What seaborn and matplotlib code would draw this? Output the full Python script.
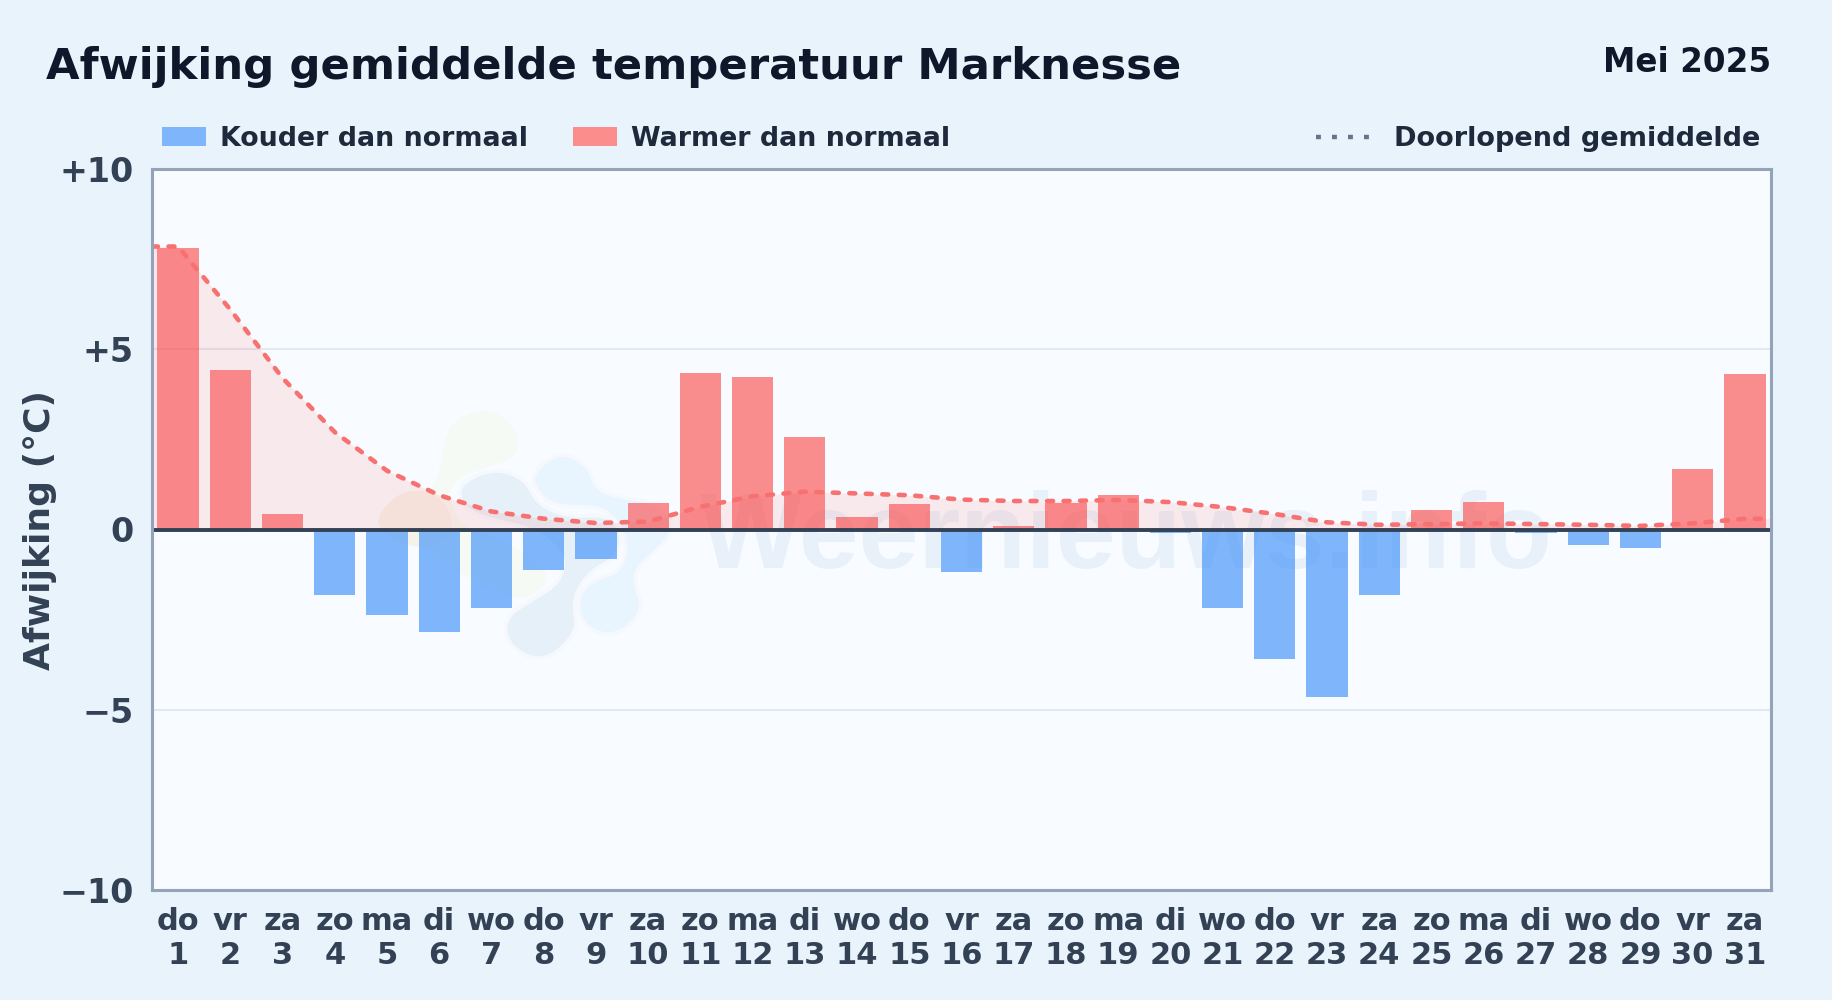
import pandas as pd
import numpy as np
import matplotlib.pyplot as plt
import seaborn as sns
from matplotlib.lines import Line2D
from matplotlib.patches import Patch, PathPatch
from matplotlib.path import Path

# ==================================================
# DATA
# ==================================================
days = list(range(1, 32))
weekdays = ['do', 'vr', 'za', 'zo', 'ma', 'di', 'wo', 'do', 'vr', 'za', 'zo', 'ma', 'di', 'wo', 'do', 'vr',
            'za', 'zo', 'ma', 'di', 'wo', 'do', 'vr', 'za', 'zo', 'ma', 'di', 'wo', 'do', 'vr', 'za']
afwijking = [7.82, 4.42, 0.44, -1.83, -2.38, -2.83, -2.18, -1.12, -0.83, 0.73, 4.35, 4.22, 2.57, 0.34, 0.70, -1.18,
             0.11, 0.73, 0.96, -0.10, -2.18, -3.58, -4.65, -1.83, 0.53, 0.76, -0.10, -0.42, -0.52, 1.67, 4.32]
gemiddelde = [7.85, 6.10, 4.20, 2.70, 1.63, 0.95, 0.50, 0.30, 0.18, 0.22, 0.63, 0.92, 1.05, 1.00, 0.95, 0.83,
              0.79, 0.79, 0.82, 0.76, 0.62, 0.43, 0.20, 0.13, 0.15, 0.17, 0.15, 0.13, 0.10, 0.17, 0.30]
y_ticks = [10, 5, 0, -5, -10]
y_labels = ['+10', '+5', '0', '\u22125', '\u221210']

BG = '#e8f3fc'
PLOT_BG = '#f8fbff'
BLUE = '#3f91fa'
RED = '#fb5252'
LINE = '#f87171'
DARK = '#1e293b'
SLATE = '#334155'

df = pd.DataFrame({'dag': days, 'afwijking': afwijking})
df['soort'] = np.where(df['afwijking'] < 0, 'koud', 'warm')

# watermark logo outlines, as control points measured on the reference
logo_green = [(445, 150), (550, 100), (640, 150), (650, 240), (560, 270), (470, 300), (450, 350), (490, 440),
              (600, 470), (740, 560), (700, 630), (620, 640), (500, 580), (400, 500), (330, 470), (380, 380), (430, 280)]
logo_orange = [(240, 400), (320, 330), (420, 350), (460, 440), (400, 500), (310, 490), (245, 450)]
logo_grey = [(485, 330), (590, 280), (680, 310), (710, 380), (800, 420), (900, 410), (950, 450), (940, 530), (860, 570),
             (810, 650), (830, 740), (730, 830), (630, 780), (620, 700), (700, 650), (780, 600), (790, 520), (700, 450),
             (600, 430), (510, 400)]
logo_light = [(710, 290), (790, 230), (870, 270), (890, 340), (960, 360), (1080, 380), (1110, 450), (1060, 510),
              (1000, 560), (1000, 610), (1025, 680), (940, 755), (850, 720), (835, 640), (880, 590), (960, 570),
              (980, 480), (930, 400), (870, 385), (770, 385), (720, 340)]

W, H = 1832, 1000


def blob(points, grow=1.07):
    # closed smooth outline, points used as quadratic control points
    pts = np.array([(300 + x / 3, H - (380 + y / 3)) for x, y in points])
    centre = pts.mean(axis=0)
    pts = centre + (pts - centre) * grow
    mids = (pts + np.roll(pts, -1, axis=0)) / 2
    verts = [mids[-1]]
    codes = [Path.MOVETO]
    for p, m in zip(pts, mids):
        verts += [p, m]
        codes += [Path.CURVE3, Path.CURVE3]
    return Path(verts, codes)


# ==================================================
# FIGURE
# ==================================================
sns.set_theme(style='white')
plt.rcParams['font.family'] = ['DejaVu Sans']
plt.rcParams['font.weight'] = 'bold'

fig = plt.figure(figsize=(W / 100, H / 100), dpi=100, facecolor=BG)
ax = fig.add_axes([152 / W, 1 - 890 / H, (1771 - 152) / W, 721 / H], facecolor=PLOT_BG)

for outline, colour, edge in [(logo_green, '#f5faf4', 'none'), (logo_orange, '#f6f2ea', 'none'),
                              (logo_grey, '#e6f0f9', '#f5f9fe'), (logo_light, '#e8f5fe', '#f5f9fe')]:
    ax.add_patch(PathPatch(blob(outline), transform=None, facecolor=colour, edgecolor=edge, linewidth=2.5, zorder=0.5))

ax.text(0.602, 0.447, 'Weernieuws.info', transform=ax.transAxes, ha='center', va='baseline',
        fontsize=77.5, fontweight='bold', family='Liberation Sans', color='#e8f1fa', zorder=0.6)

ax.yaxis.grid(True, color='#e2e8f0', linewidth=1.5)
ax.set_axisbelow(True)

sns.barplot(data=df, x='dag', y='afwijking', hue='soort', palette={'koud': BLUE, 'warm': RED}, saturation=1,
            dodge=False, width=0.79, alpha=0.65, linewidth=0, legend=False, ax=ax, zorder=2)

# running mean, held flat out to both plot edges
line_x = np.arange(len(days))
edge_x = [-0.5] + list(line_x) + [len(days) - 0.5]
edge_y = [gemiddelde[0]] + gemiddelde + [gemiddelde[-1]]
ax.fill_between(edge_x, 0, edge_y, color=RED, alpha=0.1, linewidth=0, zorder=1)
sns.lineplot(x=edge_x, y=edge_y, color=LINE, linewidth=3.3, linestyle=(0, (1.3, 2.3)), dash_capstyle='round',
             errorbar=None, sort=False, ax=ax, zorder=3)

ax.axhline(0, color=SLATE, linewidth=2.8, zorder=4)

ax.set_xlim(-0.5, len(days) - 0.5)
ax.set_ylim(-10, 10)
ax.set_yticks(y_ticks)
ax.set_yticklabels(y_labels, fontsize=24, color=SLATE, fontweight='bold')
ax.set_xticks(line_x)
ax.set_xticklabels([f'{w}\n{d}' for w, d in zip(weekdays, days)], fontsize=22, color=SLATE, fontweight='bold',
                   linespacing=1.25)
ax.tick_params(axis='y', length=0, pad=13)
ax.tick_params(axis='x', length=0, pad=12)
ax.set_xlabel('')
ax.set_ylabel('')

for spine in ax.spines.values():
    spine.set_color('#94a3b8')
    spine.set_linewidth(2.2)
    spine.set_visible(True)
    spine.set_zorder(5)

fig.text(40 / W, 1 - 530 / H, 'Afwijking (\u00b0C)', rotation=90, ha='center', va='center',
         fontsize=26, fontweight='bold', color=SLATE)
fig.text(46 / W, 1 - 67 / H, 'Afwijking gemiddelde temperatuur Marknesse', ha='left', va='center',
         fontsize=31.2, fontweight='bold', color='#0f172a')
fig.text(1771 / W, 1 - 62 / H, 'Mei 2025', ha='right', va='center', fontsize=23.5, fontweight='bold', color='#0f172a')

left_handles = [Patch(facecolor='#7fb5fb', edgecolor='none', label='Kouder dan normaal'),
                Patch(facecolor='#fb8d8d', edgecolor='none', label='Warmer dan normaal')]
fig.legend(handles=left_handles, loc='center left', bbox_to_anchor=(162 / W, 1 - 139 / H), ncol=2,
           frameon=False, fontsize=19.4, handlelength=1.64, handleheight=0.71, handletextpad=0.52,
           columnspacing=1.65, borderpad=0, borderaxespad=0, labelcolor=DARK)
right_handles = [Line2D([0], [0], color='#64748b', linewidth=3.2, linestyle=(0, (1.1, 2.5)), label='Doorlopend gemiddelde')]
fig.legend(handles=right_handles, loc='center right', bbox_to_anchor=(1760 / W, 1 - 139 / H),
           frameon=False, fontsize=19.5, handlelength=2.1, handletextpad=0.78, borderpad=0, borderaxespad=0,
           labelcolor=DARK)

fig.savefig('out.png', dpi=100, facecolor=BG)
